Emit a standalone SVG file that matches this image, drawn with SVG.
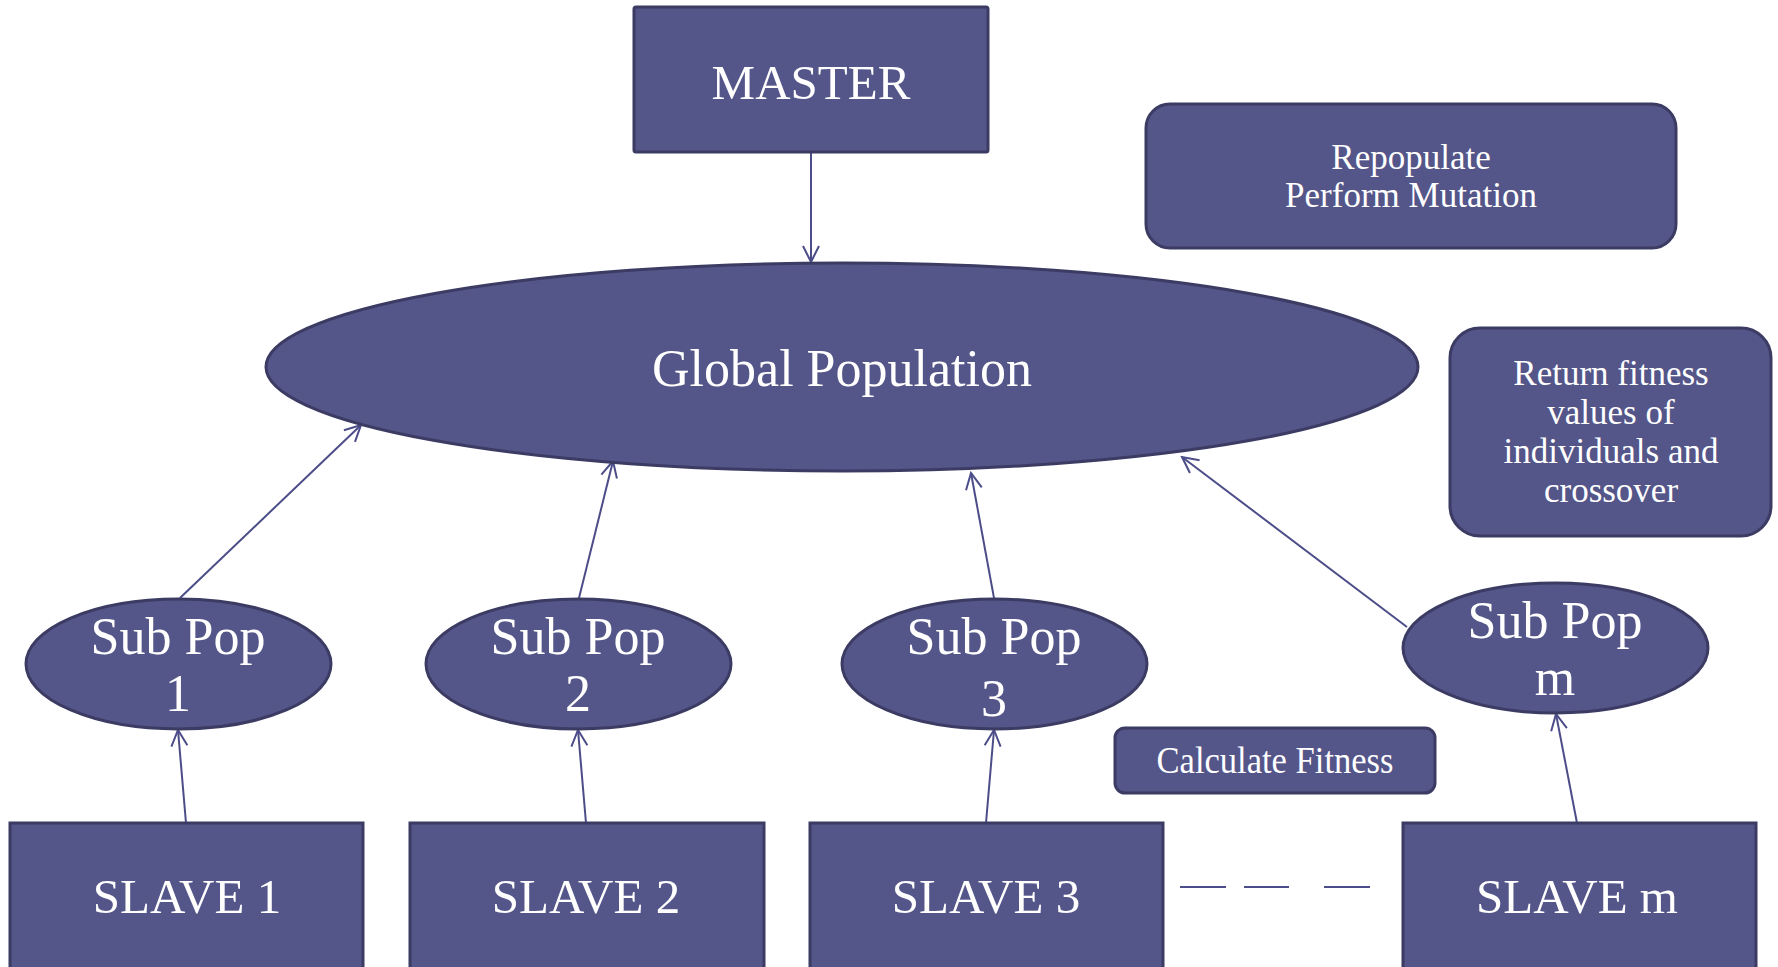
<svg xmlns="http://www.w3.org/2000/svg" width="1778" height="967" viewBox="0 0 1778 967">
<defs>
<style>
.n{fill:#545589;stroke:#3b3b63;stroke-width:3}
.t{fill:#ffffff;font-family:"Liberation Serif","DejaVu Serif",serif;text-anchor:middle}
.big{font-size:49px}
.mid{font-size:52px}
.sm{font-size:35px}
.c{stroke:#4c4d88;stroke-width:2;fill:none}
</style>
<marker id="ah" viewBox="0 0 20 20" refX="18" refY="10" markerWidth="20" markerHeight="20" markerUnits="userSpaceOnUse" orient="auto">
<path d="M2,2 L18,10 L2,18" fill="none" stroke="#4c4d88" stroke-width="2"/>
</marker>
</defs>
<rect width="1778" height="967" fill="#ffffff"/>
<g id="connectors">
<line class="c" x1="811" y1="152" x2="811" y2="262" marker-end="url(#ah)"/>
<line class="c" x1="180" y1="598" x2="361" y2="425" marker-end="url(#ah)"/>
<line class="c" x1="579" y1="598" x2="613" y2="461" marker-end="url(#ah)"/>
<line class="c" x1="994" y1="598" x2="971" y2="473" marker-end="url(#ah)"/>
<line class="c" x1="1407" y1="627" x2="1182" y2="457" marker-end="url(#ah)"/>
<line class="c" x1="186" y1="823" x2="178" y2="730" marker-end="url(#ah)"/>
<line class="c" x1="586" y1="823" x2="578" y2="730" marker-end="url(#ah)"/>
<line class="c" x1="986" y1="823" x2="994" y2="730" marker-end="url(#ah)"/>
<line class="c" x1="1577" y1="823" x2="1556" y2="714" marker-end="url(#ah)"/>
<line class="c" x1="1180" y1="887" x2="1226" y2="887"/>
<line class="c" x1="1244" y1="887" x2="1289" y2="887"/>
<line class="c" x1="1324" y1="887" x2="1370" y2="887"/>
</g>
<g id="master">
<rect class="n" x="634" y="7" width="354" height="145" rx="2"/>
<text class="t big" x="811" y="99">MASTER</text>
</g>
<g id="global">
<ellipse class="n" cx="842" cy="367" rx="576" ry="104"/>
<text class="t mid" x="842" y="386">Global Population</text>
</g>
<g id="repopulate">
<rect class="n" x="1146" y="104" width="530" height="144" rx="24"/>
<text class="t sm" x="1411" y="169">Repopulate</text>
<text class="t sm" x="1411" y="207">Perform Mutation</text>
</g>
<g id="return">
<rect class="n" x="1450" y="328" width="321" height="208" rx="30"/>
<text class="t sm" x="1611" y="385">Return fitness</text>
<text class="t sm" x="1611" y="424">values of</text>
<text class="t sm" x="1611" y="463">individuals and</text>
<text class="t sm" x="1611" y="502">crossover</text>
</g>
<g id="calc">
<rect class="n" x="1115" y="728" width="320" height="65" rx="10"/>
<text class="t" x="1275" y="773" font-size="38" textLength="237" lengthAdjust="spacingAndGlyphs">Calculate Fitness</text>
</g>
<g id="subpop1">
<ellipse class="n" cx="178.5" cy="664" rx="152.5" ry="65"/>
<text class="t mid" x="178" y="654">Sub Pop</text>
<text class="t mid" x="178" y="711">1</text>
</g>
<g id="subpop2">
<ellipse class="n" cx="578.5" cy="664" rx="152.5" ry="65"/>
<text class="t mid" x="578" y="654">Sub Pop</text>
<text class="t mid" x="578" y="711">2</text>
</g>
<g id="subpop3">
<ellipse class="n" cx="994.5" cy="664" rx="152.5" ry="65"/>
<text class="t mid" x="994" y="654">Sub Pop</text>
<text class="t mid" x="994" y="716">3</text>
</g>
<g id="subpopm">
<ellipse class="n" cx="1555.5" cy="648" rx="152.5" ry="65"/>
<text class="t mid" x="1555" y="638">Sub Pop</text>
<text class="t mid" x="1555" y="695">m</text>
</g>
<g id="slave1">
<rect class="n" x="10" y="823" width="353" height="150"/>
<text class="t big" x="187" y="913">SLAVE 1</text>
</g>
<g id="slave2">
<rect class="n" x="410" y="823" width="354" height="150"/>
<text class="t big" x="586" y="913">SLAVE 2</text>
</g>
<g id="slave3">
<rect class="n" x="810" y="823" width="353" height="150"/>
<text class="t big" x="986" y="913">SLAVE 3</text>
</g>
<g id="slavem">
<rect class="n" x="1403" y="823" width="353" height="150"/>
<text class="t big" x="1577" y="913">SLAVE m</text>
</g>
</svg>
